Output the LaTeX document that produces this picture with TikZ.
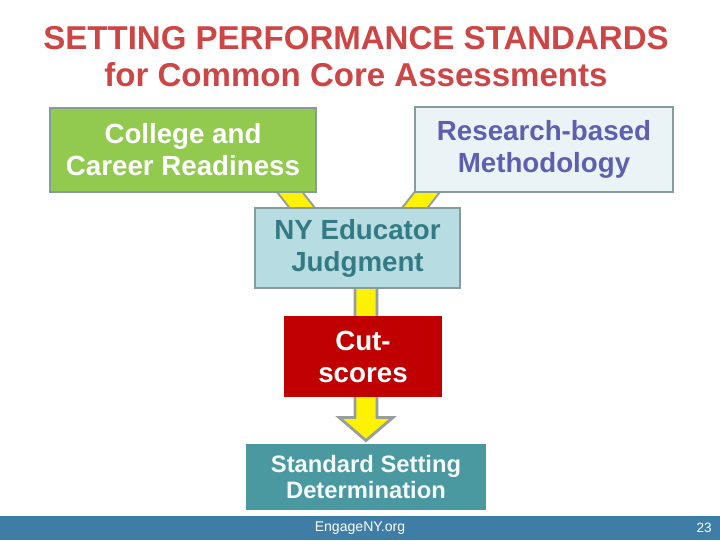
\documentclass[tikz,border=0pt]{standalone}
\usepackage{fontspec}
\setmainfont{Liberation Sans}
\usepackage{xcolor}
\usetikzlibrary{calc, backgrounds}
\definecolor{titlered}{RGB}{204,70,70}
\definecolor{boxgray}{RGB}{135,155,155}
\definecolor{ccrgreen}{RGB}{146,202,80}
\definecolor{paleblue}{RGB}{234,244,246}
\definecolor{methblue}{RGB}{95,95,175}
\definecolor{nyblue}{RGB}{183,221,227}
\definecolor{nyteal}{RGB}{52,122,132}
\definecolor{cutred}{RGB}{192,0,0}
\definecolor{stdteal}{RGB}{74,152,160}
\definecolor{footblue}{RGB}{62,126,166}
\definecolor{arrowgray}{RGB}{150,158,158}

\begin{document}
\begin{tikzpicture}[x=0.025cm,y=-0.025cm,
    box/.style={draw=boxgray,line width=2pt,inner sep=0pt,align=center,
      font=\fontsize{19.7}{22.7}\selectfont\bfseries},
    plainbox/.style={box,draw=none},
    bandedge/.style={line width=15.6pt,arrowgray},
    bandfill/.style={line width=12.6pt,yellow}]
    \useasboundingbox (0,0) rectangle (720,540);

    % title
    \node[titlered,align=center,font=\fontsize{23.5}{26.3}\selectfont\bfseries] (title) at (356,57)
        {SETTING PERFORMANCE STANDARDS\\for Common Core Assessments};

    % boxes
    \node[box,fill=ccrgreen,text=white,minimum width=6.65cm,minimum height=2.1cm] (ccr) at (183,150)
        {College and\\Career Readiness};
    \node[box,fill=paleblue,text=methblue,minimum width=6.45cm,minimum height=2.125cm] (meth) at (544,149.5)
        {Research-based\\Methodology};
    \node[box,fill=nyblue,text=nyteal,minimum width=5.125cm,minimum height=2cm] (ny) at (357.5,248)
        {NY Educator\\Judgment};
    \node[plainbox,fill=cutred,text=white,minimum width=3.95cm,minimum height=2.025cm] (cut) at (363,356.5)
        {Cut-\\scores};
    \node[plainbox,fill=stdteal,text=white!94!stdteal,minimum width=6cm,minimum height=1.65cm,
        font=\fontsize{16.9}{19.1}\selectfont\bfseries] (std) at (366,477)
        {Standard Setting\\Determination};

    % yellow arrows behind the boxes
    \begin{scope}[on background layer]
        \draw[bandedge] ($(ccr.south east)+(-44,-22)$) -- ($(ny.north west)+(65,22)$);
        \draw[bandfill] ($(ccr.south east)+(-44,-22)$) -- ($(ny.north west)+(65,22)$);
        \draw[bandedge] ($(meth.south west)+(30,-22)$) -- ($(ny.north east)+(-63,22)$);
        \draw[bandfill] ($(meth.south west)+(30,-22)$) -- ($(ny.north east)+(-63,22)$);
        \draw[fill=yellow,draw=arrowgray,line width=2pt,line join=miter]
            ($(ny.south -| std.north)+(-11,-6)$) -- ++(0,134) -- ++(-16,0)
            -- ($(std.north)+(0,-2)$) -- ($(ny.south -| std.north)+(27,128)$)
            -- ++(-16,0) -- ++(0,-134) -- cycle;
    \end{scope}

    % footer
    \node[fill=footblue,minimum width=18cm,minimum height=0.6cm,inner sep=0pt] (foot) at (360,528) {};
    \node[white,font=\fontsize{10}{11}\selectfont] (site) at (360,528) {EngageNY.org};
    \node[white,font=\fontsize{9.6}{11}\selectfont] (page) at (704,528) {23};
\end{tikzpicture}
\end{document}
